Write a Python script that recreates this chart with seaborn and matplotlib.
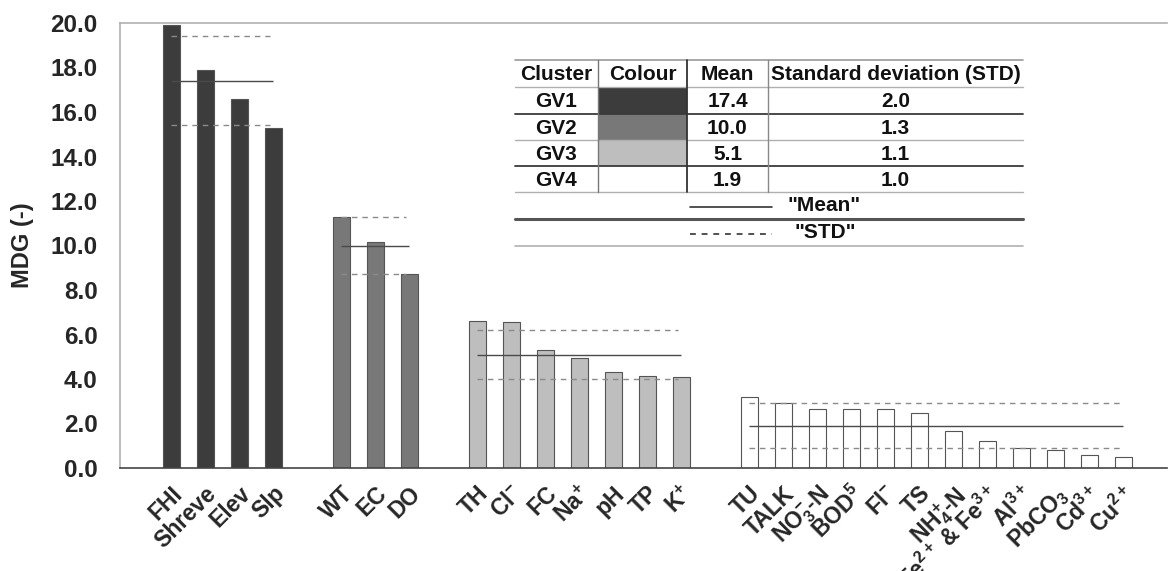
import numpy as np
import pandas as pd
import matplotlib
matplotlib.use("Agg")
import matplotlib.pyplot as plt
import seaborn as sns

# ---- data ----
gv1_labels = ["FHI", "Shreve", "Elev", "Slp"]
gv1_values = [19.9, 17.9, 16.6, 15.3]

gv2_labels = ["WT", "EC", "DO"]
gv2_values = [11.3, 10.15, 8.7]

gv3_labels = ["TH", "Cl$^{-}$", "FC", "Na$^{+}$", "pH", "TP", "K$^{+}$"]
gv3_values = [6.6, 6.55, 5.3, 4.95, 4.3, 4.13, 4.1]

gv4_labels = ["TU", "TALK", "NO$_{3}^{-}$-N", "BOD$^{5}$", "Fl$^{-}$", "TS",
              "NH$_{4}^{+}$-N", "Fe$^{2+}$ & Fe$^{3+}$", "Al$^{3+}$",
              "PbCO$_{3}$", "Cd$^{3+}$", "Cu$^{2+}$"]
gv4_values = [3.2, 2.9, 2.65, 2.65, 2.65, 2.47, 1.66, 1.21, 0.9, 0.81, 0.58, 0.5]

clusters = ["GV1", "GV2", "GV3", "GV4"]
cluster_colours = ["#3c3c3c", "#787878", "#bebebe", "#ffffff"]
cluster_means = [17.4, 10.0, 5.1, 1.9]
cluster_stds = [2.0, 1.3, 1.1, 1.0]

# ---- build table: one empty slot between clusters ----
groups = [(gv1_labels, gv1_values), (gv2_labels, gv2_values),
          (gv3_labels, gv3_values), (gv4_labels, gv4_values)]
rows = []
pos = 0
for g, (labs, vals) in enumerate(groups):
    for lab, v in zip(labs, vals):
        rows.append({"pos": pos, "label": lab, "MDG": v, "cluster": clusters[g]})
        pos += 1
    pos += 1
df = pd.DataFrame(rows)

sns.set_style("white")
plt.rcParams["font.family"] = ["Liberation Sans", "DejaVu Sans"]
plt.rcParams["font.weight"] = "bold"
plt.rcParams["mathtext.fontset"] = "custom"
plt.rcParams["mathtext.rm"] = "Liberation Sans:bold"
plt.rcParams["mathtext.bf"] = "Liberation Sans:bold"
plt.rcParams["mathtext.default"] = "bf"

W, H = 1168, 571
fig = plt.figure(figsize=(W / 100, H / 100), dpi=100)
ax = fig.add_axes([120 / W, (H - 468) / H, 1047 / W, 445 / H])

sns.barplot(data=df, x="pos", y="MDG", hue="cluster", native_scale=True,
            palette=dict(zip(clusters, cluster_colours)), width=0.5, dodge=False,
            edgecolor="#555555", linewidth=0.8, legend=False, ax=ax)

# mean / std lines per cluster
for c, m, s in zip(clusters, cluster_means, cluster_stds):
    sub = df[df.cluster == c]
    x0, x1 = sub.pos.min(), sub.pos.max()
    ax.hlines(m, x0, x1, colors="#4a4a4a", linewidth=1.0)
    ax.hlines([m + s, m - s], x0, x1 - 0.08, colors="#8a8a8a", linewidth=1.0,
              linestyles=(0, (4, 3.5)))

ax.set_xlim(-1.5, -1.5 + 1047 / 34)
ax.set_ylim(0, 20)
ax.set_yticks(np.arange(0, 20.1, 2))
ax.set_yticklabels([f"{t:.1f}" for t in np.arange(0, 20.1, 2)], fontsize=17.5,
                   fontweight="bold")
ax.set_xticks(df.pos)
ax.set_xticklabels(df.label, rotation=45, ha="right", va="top",
                   rotation_mode="anchor", fontsize=16.5, fontweight="bold")
ax.tick_params(axis="both", length=0)
ax.tick_params(axis="y", pad=16)
ax.tick_params(axis="x", pad=10)
ax.set_xlabel("")
ax.set_ylabel("MDG (-)", fontsize=17, fontweight="bold", labelpad=12)
for side in ["left", "top"]:
    ax.spines[side].set_color("#b0b0b0")
    ax.spines[side].set_linewidth(1.2)
ax.spines["bottom"].set_color("#444444")
ax.spines["bottom"].set_linewidth(1.2)
ax.spines["right"].set_visible(False)

# ---- summary table drawn in pixel coordinates ----
tab = fig.add_axes([0, 0, 1, 1])
tab.set_xlim(0, W)
tab.set_ylim(H, 0)
tab.axis("off")

tx0, tx1 = 515, 1023
col_edges = [515, 598, 687, 768, 1023]
row_edges = [60, 87, 114, 140, 166, 192, 219, 246]
fs = 15

heads = ["Cluster", "Colour", "Mean", "Standard deviation (STD)"]
for i, h in enumerate(heads):
    tab.text((col_edges[i] + col_edges[i + 1]) / 2, (row_edges[0] + row_edges[1]) / 2 + 1,
             h, ha="center", va="center", fontsize=fs, fontweight="bold", color="#111111")

for r, (c, col, m, s) in enumerate(zip(clusters, cluster_colours, cluster_means, cluster_stds)):
    y0, y1 = row_edges[r + 1], row_edges[r + 2]
    yc = (y0 + y1) / 2 + 1
    tab.add_patch(plt.Rectangle((col_edges[1], y0), col_edges[2] - col_edges[1], y1 - y0,
                                facecolor=col, edgecolor="none"))
    tab.text((col_edges[0] + col_edges[1]) / 2, yc, c, ha="center", va="center",
             fontsize=fs, fontweight="bold", color="#111111")
    tab.text((col_edges[2] + col_edges[3]) / 2, yc, f"{m:.1f}", ha="center", va="center",
             fontsize=fs, fontweight="bold", color="#111111")
    tab.text((col_edges[3] + col_edges[4]) / 2, yc, f"{s:.1f}", ha="center", va="center",
             fontsize=fs, fontweight="bold", color="#111111")

line_styles = [("#9a9a9a", 1.2), ("#b0b0b0", 1.0), ("#3a3a3a", 1.3), ("#b0b0b0", 1.0),
               ("#3a3a3a", 1.3), ("#b0b0b0", 1.0), ("#555555", 2.2), ("#b0b0b0", 1.2)]
for y, (clr, lw) in zip(row_edges, line_styles):
    tab.plot([tx0, tx1], [y, y], color=clr, linewidth=lw)
for x, clr, lw in zip(col_edges[1:4], ["#777777", "#333333", "#888888"], [1.0, 1.3, 1.0]):
    tab.plot([x, x], [row_edges[0], row_edges[5]], color=clr, linewidth=lw)

# legend rows for the mean / std lines
yc = (row_edges[5] + row_edges[6]) / 2
tab.plot([690, 772], [yc + 1, yc + 1], color="#333333", linewidth=1.2)
tab.text(824, yc, '"Mean"', ha="center", va="center", fontsize=fs, fontweight="bold",
         color="#111111")
yc = (row_edges[6] + row_edges[7]) / 2
tab.plot([690, 772], [yc + 1, yc + 1], color="#333333", linewidth=1.2,
         linestyle=(0, (3.5, 3.5)))
tab.text(825, yc, '"STD"', ha="center", va="center", fontsize=fs, fontweight="bold",
         color="#111111")

fig.savefig("out.png", dpi=100)
